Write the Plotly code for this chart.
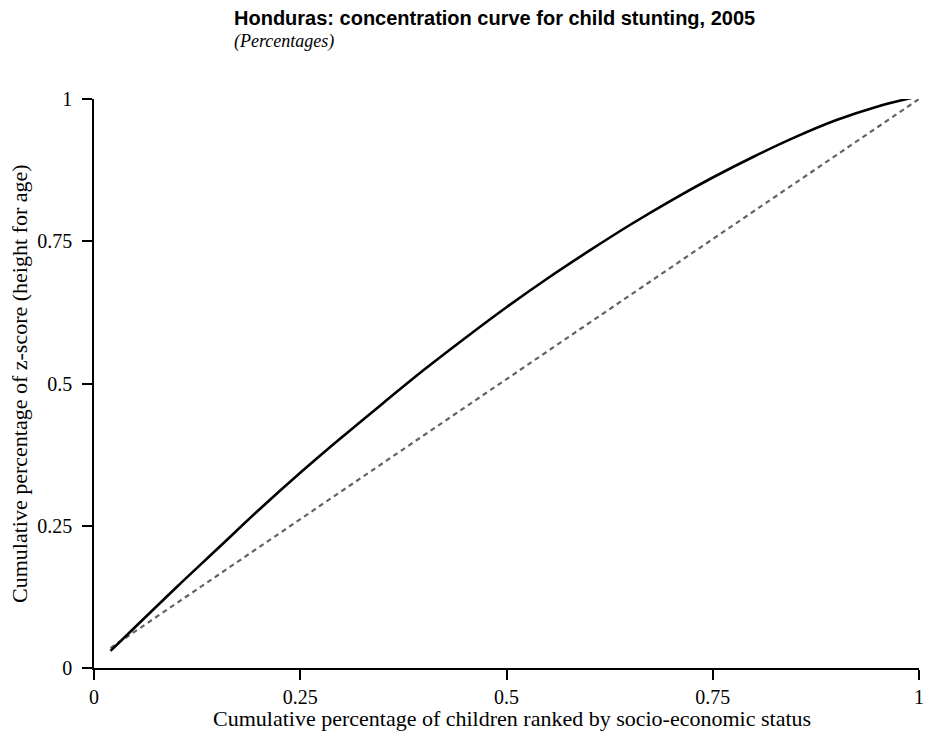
import plotly.graph_objects as go

# Concentration curve data
x_share = [0.02, 0.05, 0.10, 0.15, 0.20, 0.25, 0.30, 0.35, 0.40, 0.45, 0.50,
           0.55, 0.60, 0.65, 0.70, 0.75, 0.80, 0.85, 0.90, 0.95, 1.00]
y_share = [0.030, 0.072, 0.142, 0.210, 0.278, 0.343, 0.405, 0.465, 0.524, 0.580, 0.634,
           0.685, 0.733, 0.779, 0.822, 0.862, 0.899, 0.933, 0.963, 0.987, 1.005]

# Equality (reference) line
x_equal = [0.02, 1.00]
y_equal = [0.035, 1.00]

tick_vals = [0, 0.25, 0.5, 0.75, 1]
tick_text = ["0", "0.25", "0.5", "0.75", "1"]

fig = go.Figure()
fig.add_trace(go.Scatter(x=x_equal, y=y_equal, mode="lines",
                         line=dict(color="#636363", width=2.2, dash="5px,4px"),
                         cliponaxis=False, hoverinfo="skip"))
fig.add_trace(go.Scatter(x=x_share, y=y_share, mode="lines",
                         line=dict(color="#000000", width=2.6, shape="spline"),
                         cliponaxis=False))

serif = "Liberation Serif, Times New Roman, serif"
fig.update_layout(
    width=917, height=732,
    margin=dict(l=86, r=6, t=91, b=72),
    paper_bgcolor="white", plot_bgcolor="white",
    showlegend=False,
    font=dict(family=serif, color="#000000", size=20),
    xaxis=dict(range=[0, 1], tickvals=tick_vals, ticktext=tick_text,
               showgrid=False, zeroline=False, showline=True, linecolor="#000000",
               linewidth=1.5, ticks="outside", ticklen=10, tickwidth=1.5,
               tickcolor="#000000", tickfont=dict(family=serif, size=20),
               automargin=False, ticklabeloverflow="allow"),
    yaxis=dict(range=[0, 1], tickvals=tick_vals, ticktext=tick_text,
               showgrid=False, zeroline=False, showline=True, linecolor="#000000",
               linewidth=1.5, ticks="outside", ticklen=10, tickwidth=1.5,
               tickcolor="#000000", tickfont=dict(family=serif, size=20),
               automargin=False, ticklabelstandoff=6),
    annotations=[
        dict(text="<b>Honduras: concentration curve for child stunting, 2005</b>",
             xref="paper", yref="paper", x=0.1667, y=1.1424, xanchor="left", yanchor="middle",
             showarrow=False, font=dict(family="Liberation Sans, Arial, sans-serif", size=20)),
        dict(text="<i>(Percentages)</i>",
             xref="paper", yref="paper", x=0.1667, y=1.1002, xanchor="left", yanchor="middle",
             showarrow=False, font=dict(family=serif, size=18)),
        dict(text="Cumulative percentage of children ranked by socio-economic status",
             xref="paper", yref="paper", x=0.5067, y=-0.0879, xanchor="center", yanchor="middle",
             showarrow=False, font=dict(family=serif, size=22)),
        dict(text="Cumulative percentage of z-score (height for age)",
             xref="paper", yref="paper", x=-0.0903, y=0.5, xanchor="center", yanchor="middle",
             textangle=-90, showarrow=False, font=dict(family=serif, size=22)),
    ],
)

fig.write_html("out.html")
